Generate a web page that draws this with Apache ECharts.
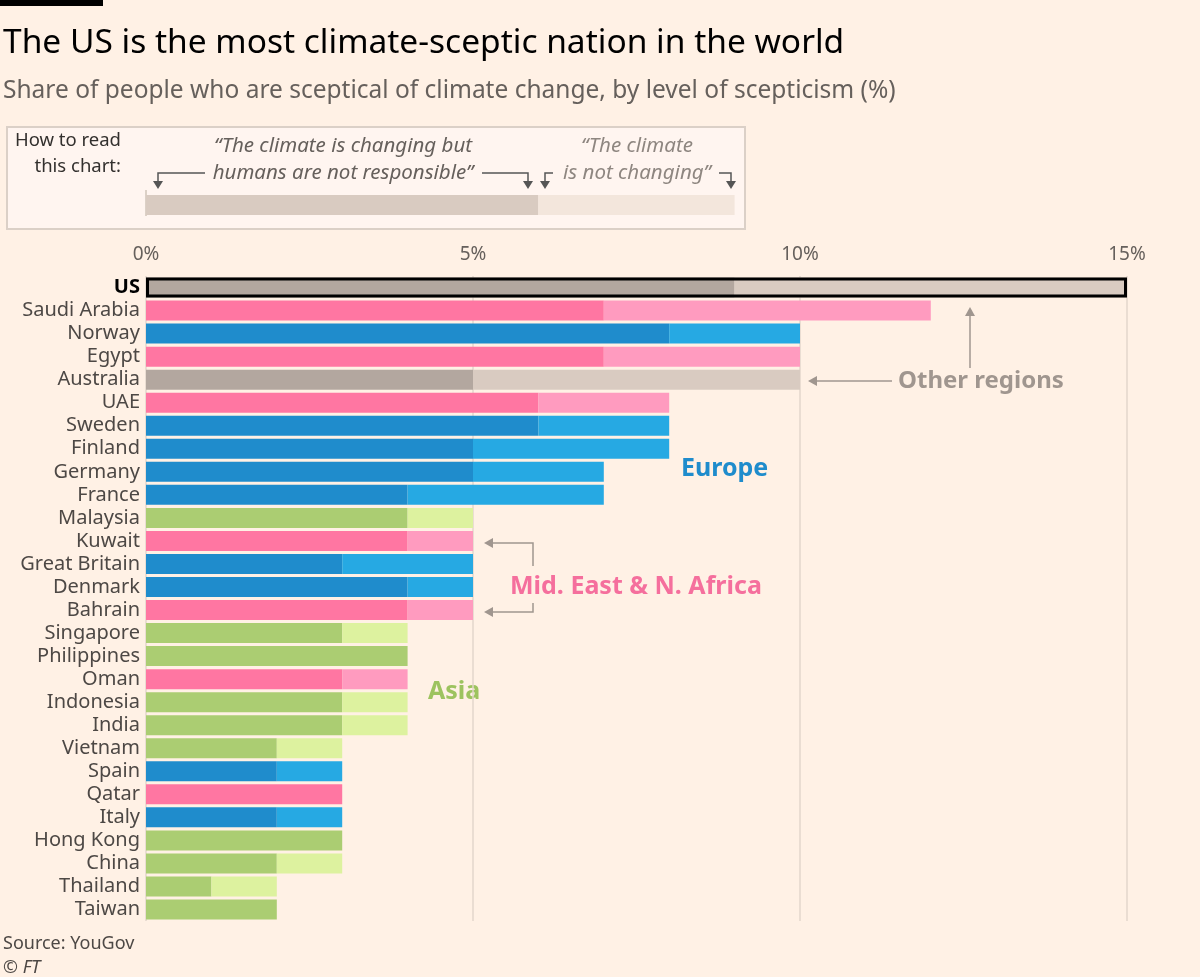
<!DOCTYPE html>
<html><head><meta charset="utf-8">
<script src="https://cdn.jsdelivr.net/npm/echarts@6/dist/echarts.min.js"></script>
<style>html,body{margin:0;padding:0;background:#fff1e5;}#c{width:1200px;height:977px;}</style>
</head><body><div id="c"></div>
<script>
const countries = ['US','Saudi Arabia','Norway','Egypt','Australia','UAE','Sweden','Finland','Germany','France','Malaysia','Kuwait','Great Britain','Denmark','Bahrain','Singapore','Philippines','Oman','Indonesia','India','Vietnam','Spain','Qatar','Italy','Hong Kong','China','Thailand','Taiwan'];
const regions = ['other','mena','europe','mena','other','mena','europe','europe','europe','europe','asia','mena','europe','europe','mena','asia','asia','mena','asia','asia','asia','europe','mena','europe','asia','asia','asia','asia'];
// "The climate is changing but humans are not responsible" (%)
const notResponsible = [9,7,8,7,5,6,6,5,5,4,4,4,3,4,4,3,4,3,3,3,2,2,3,2,3,2,1,2];
// "The climate is not changing" (%)
const notChanging = [6,5,2,3,5,2,2,3,2,3,1,1,2,1,1,1,0,1,1,1,1,1,0,1,0,1,1,0];
const xTicks = [0,5,10,15];
const howToRead = [6,3];

const darkCol = {other:'#b3a79f', mena:'#ff76a2', europe:'#1f8ccc', asia:'#abcd72'};
const lightCol = {other:'#d9cbc1', mena:'#ff9bbf', europe:'#26a9e3', asia:'#ddf29f'};
const FONT = 'Noto Sans';

const chart = echarts.init(document.getElementById('c'));
const usTotal = countries.map((c,i)=> c==='US' ? notResponsible[i]+notChanging[i] : null);

chart.setOption({
  backgroundColor:'#fff1e5',
  textStyle:{fontFamily:FONT},
  animation:false,
  grid:[
    {left:146,right:73,top:276,height:645,containLabel:false},
    {left:146,right:73,top:195,height:20,containLabel:false}
  ],
  xAxis:[
    {gridIndex:0,type:'value',min:xTicks[0],max:xTicks[xTicks.length-1],interval:5,position:'top',
     axisLine:{show:false},axisTick:{show:false},
     axisLabel:{formatter:'{value}%',color:'#66605c',fontSize:19,margin:12,fontFamily:FONT},
     splitLine:{show:true,lineStyle:{color:'#e3d6cb',width:1.5}}},
    {gridIndex:1,type:'value',min:0,max:15,show:false}
  ],
  yAxis:[
    {gridIndex:0,type:'category',data:countries,inverse:true,
     axisLine:{show:false},axisTick:{show:false},
     axisLabel:{interval:0,color:'#4d4845',fontSize:20,margin:6,fontFamily:FONT,
       formatter:v=> v==='US' ? '{b|US}' : v,
       rich:{b:{fontWeight:'bold',color:'#000',fontSize:20,fontFamily:FONT}}}},
    {gridIndex:1,type:'category',data:['x'],show:false}
  ],
  series:[
    {type:'bar',stack:'s',xAxisIndex:0,yAxisIndex:0,barWidth:20,
     data:notResponsible.map((v,i)=>({value:v,itemStyle:{color:darkCol[regions[i]]}}))},
    {type:'bar',stack:'s',xAxisIndex:0,yAxisIndex:0,barWidth:20,
     data:notChanging.map((v,i)=>({value:v,itemStyle:{color:lightCol[regions[i]]}}))},
    {type:'bar',xAxisIndex:0,yAxisIndex:0,barWidth:20,barGap:'-100%',z:5,
     data:usTotal,itemStyle:{color:'rgba(0,0,0,0)',borderColor:'#000',borderWidth:3}},
    {type:'bar',stack:'h',xAxisIndex:1,yAxisIndex:1,barWidth:20,data:[howToRead[0]],itemStyle:{color:'#d9cbc1'},z:3},
    {type:'bar',stack:'h',xAxisIndex:1,yAxisIndex:1,barWidth:20,data:[howToRead[1]],itemStyle:{color:'#f3e6dc'},z:3}
  ],
  graphic:[
    {type:'rect',shape:{x:0,y:0,width:103,height:6},style:{fill:'#000'}},
    {type:'text',x:3,y:43,style:{text:'The US is the most climate-sceptic nation in the world',fill:'#000',fontSize:33.5,verticalAlign:'middle',fontFamily:FONT}},
    {type:'text',x:3,y:91,style:{text:'Share of people who are sceptical of climate change, by level of scepticism (%)',fill:'#66605c',fontSize:24.5,verticalAlign:'middle',fontFamily:FONT}},
    // how to read box
    {type:'rect',z:-1,shape:{x:7,y:127,width:738,height:102},style:{fill:'#fff5f0',stroke:'#dbd0c7',lineWidth:2}},
    {type:'line',shape:{x1:146,y1:190,x2:146,y2:216},style:{stroke:'#d0c4ba',lineWidth:1.5}},
    {type:'text',x:121,y:154,style:{text:'How to read\nthis chart:',fill:'#33302e',fontSize:18.5,lineHeight:26,align:'right',verticalAlign:'middle',fontFamily:FONT}},
    {type:'text',x:343,y:146,style:{text:'\u201cThe climate is changing but',fill:'#66605c',fontSize:20.5,fontStyle:'italic',align:'center',verticalAlign:'middle',fontFamily:FONT}},
    {type:'text',x:343,y:173,style:{text:'humans are not responsible\u201d',fill:'#66605c',fontSize:20.5,fontStyle:'italic',align:'center',verticalAlign:'middle',fontFamily:FONT}},
    {type:'text',x:637,y:146,style:{text:'\u201cThe climate',fill:'#8e8680',fontSize:20.5,fontStyle:'italic',align:'center',verticalAlign:'middle',fontFamily:FONT}},
    {type:'text',x:637,y:173,style:{text:'is not changing\u201d',fill:'#8e8680',fontSize:20.5,fontStyle:'italic',align:'center',verticalAlign:'middle',fontFamily:FONT}},
    {type:'polyline',shape:{points:[[205,173],[158,173],[158,186]]},style:{stroke:'#555',lineWidth:1.5,fill:null}},
    {type:'polygon',shape:{points:[[153,181],[163,181],[158,189]]},style:{fill:'#555'}},
    {type:'polyline',shape:{points:[[482,173],[528,173],[528,186]]},style:{stroke:'#555',lineWidth:1.5,fill:null}},
    {type:'polygon',shape:{points:[[523,181],[533,181],[528,189]]},style:{fill:'#555'}},
    {type:'polyline',shape:{points:[[553,173],[545,173],[545,186]]},style:{stroke:'#555',lineWidth:1.5,fill:null}},
    {type:'polygon',shape:{points:[[540,181],[550,181],[545,189]]},style:{fill:'#555'}},
    {type:'polyline',shape:{points:[[719,173],[731,173],[731,186]]},style:{stroke:'#555',lineWidth:1.5,fill:null}},
    {type:'polygon',shape:{points:[[726,181],[736,181],[731,189]]},style:{fill:'#555'}},
    // annotations
    {type:'text',x:898,y:381,style:{text:'Other regions',fill:'#a0968f',fontSize:24,fontWeight:'bold',verticalAlign:'middle',fontFamily:FONT}},
    {type:'line',shape:{x1:892,y1:381,x2:812,y2:381},style:{stroke:'#a0968f',lineWidth:1.5}},
    {type:'polygon',shape:{points:[[808,381],[817,376],[817,386]]},style:{fill:'#a0968f'}},
    {type:'line',shape:{x1:970,y1:368,x2:970,y2:312},style:{stroke:'#a0968f',lineWidth:1.5}},
    {type:'polygon',shape:{points:[[970,307],[965,316],[975,316]]},style:{fill:'#a0968f'}},
    {type:'text',x:681,y:469,style:{text:'Europe',fill:'#1f8ccc',fontSize:25,fontWeight:'bold',verticalAlign:'middle',fontFamily:FONT}},
    {type:'text',x:510,y:587,style:{text:'Mid. East & N. Africa',fill:'#f56f9d',fontSize:25,fontWeight:'bold',verticalAlign:'middle',fontFamily:FONT}},
    {type:'polyline',shape:{points:[[533,566],[533,543],[489,543]]},style:{stroke:'#a0968f',lineWidth:1.5,fill:null}},
    {type:'polygon',shape:{points:[[484,543],[493,538],[493,548]]},style:{fill:'#a0968f'}},
    {type:'polyline',shape:{points:[[533,603],[533,612],[489,612]]},style:{stroke:'#a0968f',lineWidth:1.5,fill:null}},
    {type:'polygon',shape:{points:[[484,612],[493,607],[493,617]]},style:{fill:'#a0968f'}},
    {type:'text',x:428,y:692,style:{text:'Asia',fill:'#9dc35f',fontSize:25,fontWeight:'bold',verticalAlign:'middle',fontFamily:FONT}},
    {type:'text',x:3,y:944,style:{text:'Source: YouGov',fill:'#4d4845',fontSize:18,verticalAlign:'middle',fontFamily:FONT}},
    {type:'text',x:3,y:968,style:{text:'\u00a9 FT',fill:'#4d4845',fontSize:18,fontStyle:'italic',verticalAlign:'middle',fontFamily:FONT}}
  ]
});
</script></body></html>
